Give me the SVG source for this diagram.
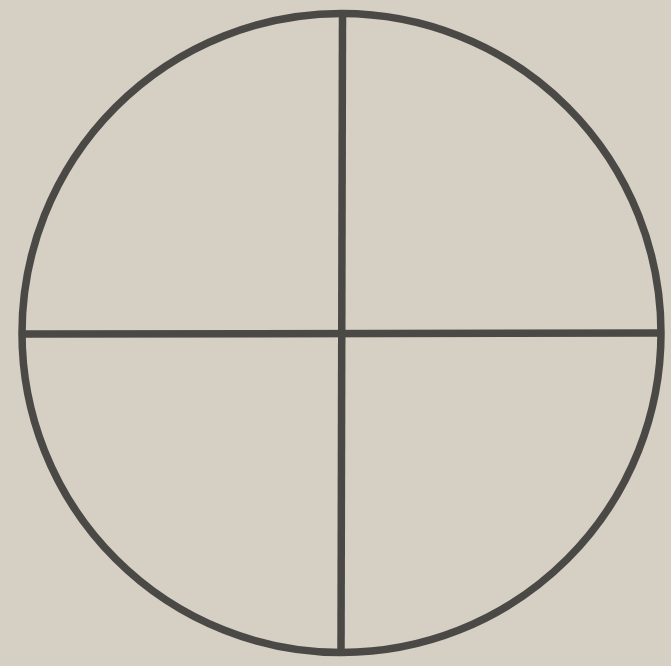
<svg xmlns="http://www.w3.org/2000/svg" width="671" height="666" viewBox="0 0 671 666">
<style>.s{fill:none;stroke:#4b4946;stroke-width:7.5}</style>
<rect width="671" height="666" fill="#d5cfc4"/>
<g id="circle"><circle class="s" cx="341.5" cy="333" r="319.5"/></g>
<g id="connectors">
<line class="s" x1="342.5" y1="14" x2="341" y2="652"/>
<line class="s" x1="22" y1="334" x2="661" y2="333"/>
</g>
</svg>
